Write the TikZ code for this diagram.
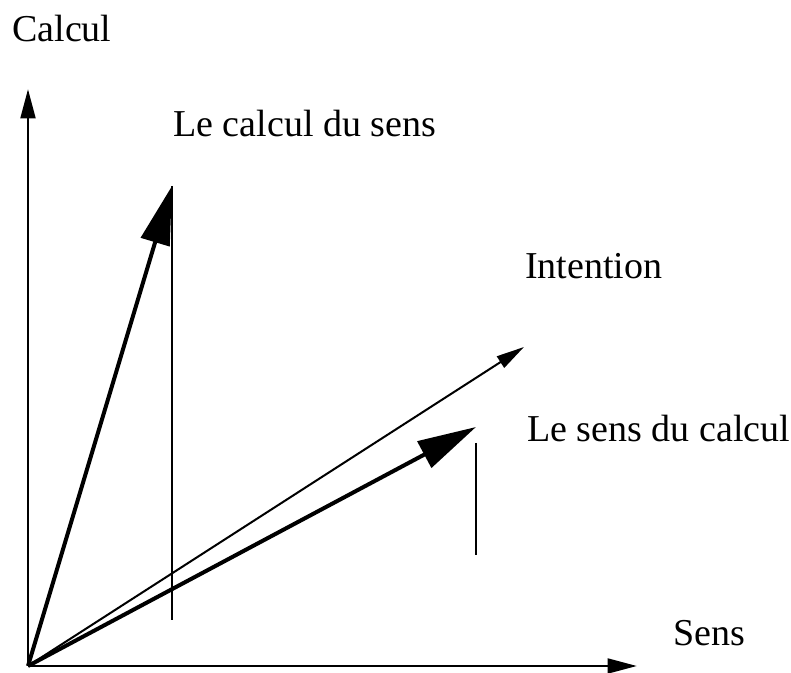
\documentclass[tikz,border=0pt]{standalone}
\usepackage{fontspec}
\setmainfont{Liberation Serif}
\usetikzlibrary{arrows.meta}

\tikzset{
    axe/.style={line width=2.2pt, -{Triangle[length=22pt, width=11pt]}},
    vecteur/.style={line width=3pt, -{Triangle[length=44pt, width=22pt]}},
    fleche/.style={line width=1.5pt, -{Triangle[length=21pt, width=10pt]}},
    trait/.style={line width=1.5pt},
    etiquette/.style={anchor=base west, inner sep=0pt, font=\fontsize{28.5}{34}\selectfont}
}

\begin{document}
\begin{tikzpicture}[x=0.75pt, y=0.75pt]
    \useasboundingbox (0,0) rectangle (791,673);

    \coordinate (O) at (28,7);
    \coordinate (Y) at (28,584);
    \coordinate (X) at (637,7);
    \coordinate (CS) at (172,487);
    \coordinate (CSbas) at (172,53);
    \coordinate (I) at (524,326);
    \coordinate (SC) at (476,246);
    \coordinate (SChaut) at (476,230);
    \coordinate (SCbas) at (476,118);

    % axes
    \draw[axe] (O) -- (Y);
    \draw[axe] (O) -- (X);

    % vecteurs
    \draw[trait] (CS) -- (CSbas);
    \draw[trait] (SChaut) -- (SCbas);
    \draw[fleche] (O) -- (I);
    \draw[vecteur] (O) -- (CS);
    \draw[vecteur] (O) -- (SC);

    \node[etiquette] (calcul) at (12,631) {Calcul};
    \node[etiquette] (calculsens) at (173,536) {Le calcul du sens};
    \node[etiquette] (intention) at (525,394) {Intention};
    \node[etiquette] (senscalcul) at (527,231) {Le sens du calcul};
    \node[etiquette] (sens) at (673,27) {Sens};
\end{tikzpicture}
\end{document}
